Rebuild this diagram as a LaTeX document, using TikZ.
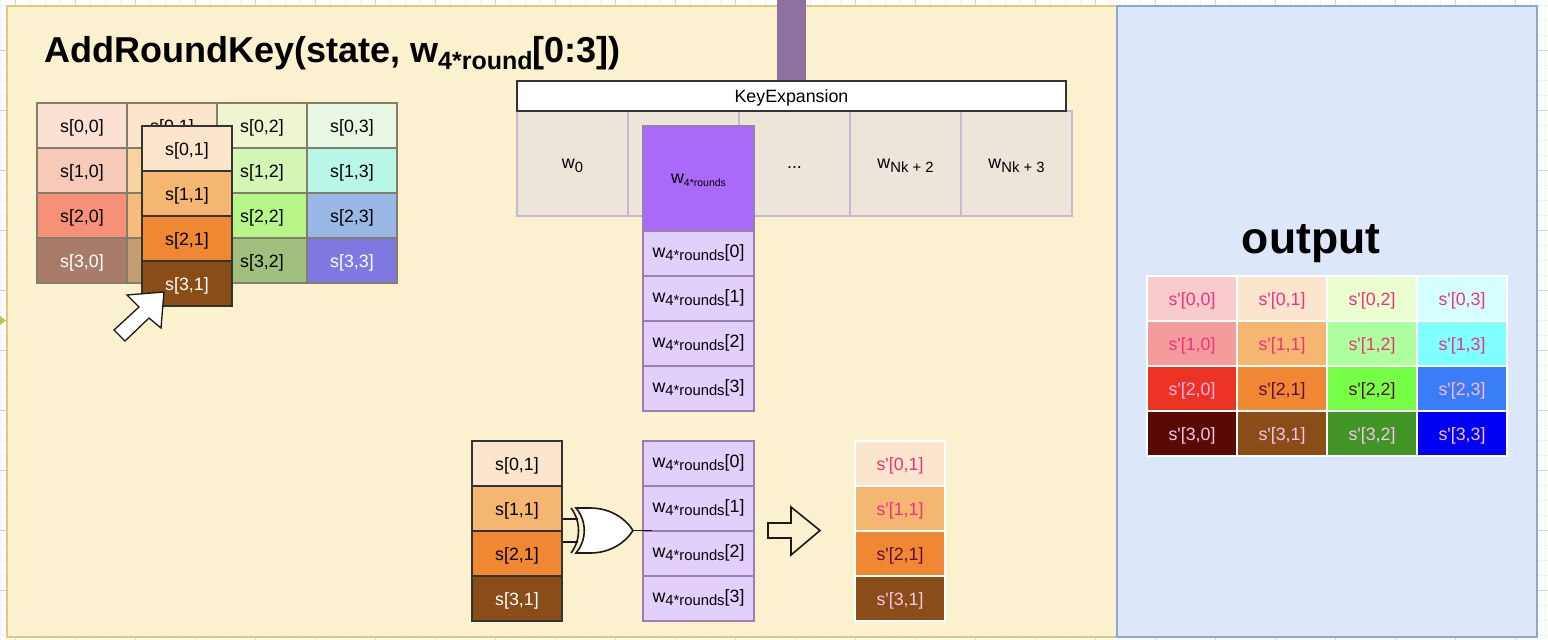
\documentclass[tikz,border=0pt]{standalone}
\usepackage{fontspec}
\setmainfont{Liberation Sans}
\newcommand{\cellfont}{\fontsize{17.8}{20}\selectfont}
\newcommand{\subtxt}[2]{\raisebox{-0.22em}{\fontsize{#1}{#1}\selectfont #2}}
\newcommand{\wround}[1]{w\subtxt{14.8}{4*rounds}[#1]}
\definecolor{framea}{HTML}{DFC97F}
\definecolor{fillframea}{HTML}{FCF1CF}
\definecolor{frameb}{HTML}{8FA6CC}
\definecolor{fillframeb}{HTML}{DCE7FA}
\definecolor{wedge}{HTML}{9A7FB0}
\definecolor{wfill}{HTML}{E1D0FB}
\definecolor{keyfill}{HTML}{EDE4DA}
\definecolor{keybar}{HTML}{8F71A1}
\tikzset{
  x=1pt,y=-1pt,
  cellbase/.style={minimum width=90pt,minimum height=45pt,inner sep=0pt,font=\cellfont,text height=14pt,text depth=1pt},
  statecell/.style={cellbase,draw=black!48!fillframea,line width=1.3pt},
  colcell/.style={cellbase,draw=black!80,line width=1.8pt},
  outcell/.style={cellbase,draw=white,line width=1.3pt},
  wcell/.style={cellbase,minimum width=111pt,draw=wedge,line width=1.5pt,fill=wfill,text height=11pt,text depth=4pt},
  keycell/.style={cellbase,minimum width=111pt,minimum height=105pt,draw=wedge!55,line width=1.5pt,fill=keyfill,text height=12.5pt,text depth=2.5pt},
  gate/.style={draw=black!90,line width=1.6pt},
}
\begin{document}
\begin{tikzpicture}
\useasboundingbox (0,0) rectangle (1548,640);
% Page grid behind the frames
\foreach \gx in {0,15,...,1545} \draw[black!5] (\gx,0) -- (\gx,640);
\foreach \gy in {5,20,...,635} \draw[black!5] (0,\gy) -- (1548,\gy);
\foreach \gx in {15,75,...,1515} \draw[black!16] (\gx,0) -- (\gx,640);
\foreach \gy in {50,110,...,590} \draw[black!16] (0,\gy) -- (1548,\gy);
% Two frames
\draw[framea,fill=fillframea,line width=2pt] (7,6) rectangle (1117,637);
\draw[frameb,fill=fillframeb,line width=2pt] (1117,6) rectangle (1537,637);
\fill[yellow!70!black!85!white] (0,316) -- (6,320.5) -- (0,325) -- cycle;
% Titles
\node[anchor=base west,inner sep=0pt,font=\fontsize{36}{40}\selectfont\bfseries] (title) at (44,62)
  {AddRoundKey(state, w\subtxt{25}{4*round}[0:3])};
\node[inner sep=0pt,font=\fontsize{44.5}{48}\selectfont\bfseries] (outtitle) at (1311,244) {output};
% State grid
\foreach \ri/\ci/\hue/\ink in {
  0/0/FBE1D3/black,0/1/FBE6CB/black,0/2/EFF6CF/black,0/3/E8F7E4/black,
  1/0/F6C9B8/black,1/1/FAD4A0/black,1/2/D3F6B4/black,1/3/B8F7E6/black,
  2/0/F59178/black,2/1/F6BC7C/black,2/2/B7F78A/black,2/3/99B8E6/black,
  3/0/A97C6A/white,3/1/C49E72/white,3/2/A1C07E/black,3/3/7E78E0/white} {
  \definecolor{hue}{HTML}{\hue}
  \node[statecell,fill=hue,text=\ink] (st\ri\ci) at ({82+90*\ci},{125.5+45*\ri}) {s[\ri,\ci]};
}
% Column lifted out of the grid
\foreach \ri/\hue/\ink in {0/FCE5CD/black,1/F4B670/black,2/F08732/black,3/8B4D17/white} {
  \definecolor{hue}{HTML}{\hue}
  \node[colcell,fill=hue,text=\ink] (col\ri) at (187,{148.5+45*\ri}) {s[\ri,1]};
}
\draw[black!90,fill=white,line width=1.3pt] (164,292) -- (127,295) -- (139,307) -- (114,330)
  -- (125,341) -- (149,318) -- (161,328) -- cycle;
% Key schedule
\fill[keybar] (777,0) rectangle (806,81);
\node[keycell] (key0) at (572.5,163.5) {w\subtxt{14.8}{0}};
\node[keycell] (key1) at (683.5,163.5) {};
\node[keycell] (key2) at (794.5,163.5) {...};
\node[keycell] (key3) at (905.5,163.5) {w\subtxt{14.8}{Nk + 2}};
\node[keycell] (key4) at (1016.5,163.5) {w\subtxt{14.8}{Nk + 3}};
\node[cellbase,minimum width=549pt,minimum height=30pt,draw=black!80,line width=1.8pt,fill=white] (keyexp) at (791.5,96) {KeyExpansion};
\definecolor{hue}{HTML}{AA69F7}
\node[wcell,minimum height=105pt,fill=hue,text height=12pt,text depth=3pt] (wtop) at (698.5,178.5) {w\subtxt{10.5}{4*rounds}};
\foreach \ri in {0,1,2,3} \node[wcell] (wup\ri) at (698.5,{253.5+45*\ri}) {\wround{\ri}};
% Bottom row: column, key words, result
\foreach \ri/\hue/\ink in {0/FCE5CD/black,1/F4B670/black,2/F08732/black,3/8B4D17/white} {
  \definecolor{hue}{HTML}{\hue}
  \node[colcell,fill=hue,text=\ink] (low\ri) at (517,{463.5+45*\ri}) {s[\ri,1]};
}
\foreach \ri in {0,1,2,3} \node[wcell] (wlow\ri) at (698.5,{463.5+45*\ri}) {\wround{\ri}};
\foreach \ri/\hue/\ink in {0/FCE5CD/F0317F,1/F4B670/F0317F,2/F08732/5E0B3E,3/8B4D17/F4C6EC} {
  \definecolor{hue}{HTML}{\hue}
  \definecolor{ink}{HTML}{\ink}
  \node[outcell,fill=hue,text=ink] (res\ri) at (900,{463.5+45*\ri}) {s\textquotesingle[\ri,1]};
}
% XOR gate
\coordinate (xorA) at (578,519);
\coordinate (xorB) at (578,542);
\coordinate (xorTip) at (633,530.5);
\coordinate (xorEnd) at (652,530.5);
\draw[gate] (low1.east |- xorA) -- (xorA);
\draw[gate] (low2.east |- xorB) -- (xorB);
\draw[gate] (xorTip) -- (xorEnd);
\draw[gate,fill=white] (576,508) -- (590,508) .. controls (610,508) and (625,518) .. (xorTip)
  .. controls (625,543) and (610,553) .. (590,553) -- (576,553)
  .. controls (587,540) and (587,521) .. (576,508) -- cycle;
\draw[gate] (571,508) .. controls (581,521) and (581,540) .. (571,553);
% Block arrow
\draw[black!90,line width=1.6pt] (768,523) -- (791,523) -- (791,507) -- (820,530.5) -- (791,555)
  -- (791,538) -- (768,538) -- cycle;
% Output grid
\foreach \ri/\ci/\hue/\ink in {
  0/0/F8CCCC/F0317F,0/1/FCE5CD/F0317F,0/2/E9FFCF/F0317F,0/3/D5FFFF/F0317F,
  1/0/F49C9C/F0317F,1/1/F4B670/F0317F,1/2/AEFF9E/F0317F,1/3/7FFFFF/F0317F,
  2/0/EC3323/FFB8E6,2/1/F08732/5E0B3E,2/2/76FF47/5E0B3E,2/3/3A7DF8/FFB8E6,
  3/0/5A0A04/F4C6EC,3/1/8B4D17/F4C6EC,3/2/419527/F4C6EC,3/3/0000F5/F4C6EC} {
  \definecolor{hue}{HTML}{\hue}
  \definecolor{ink}{HTML}{\ink}
  \node[outcell,fill=hue,text=ink] (out\ri\ci) at ({1192+90*\ci},{298.5+45*\ri}) {s\textquotesingle[\ri,\ci]};
}
\end{tikzpicture}
\end{document}
